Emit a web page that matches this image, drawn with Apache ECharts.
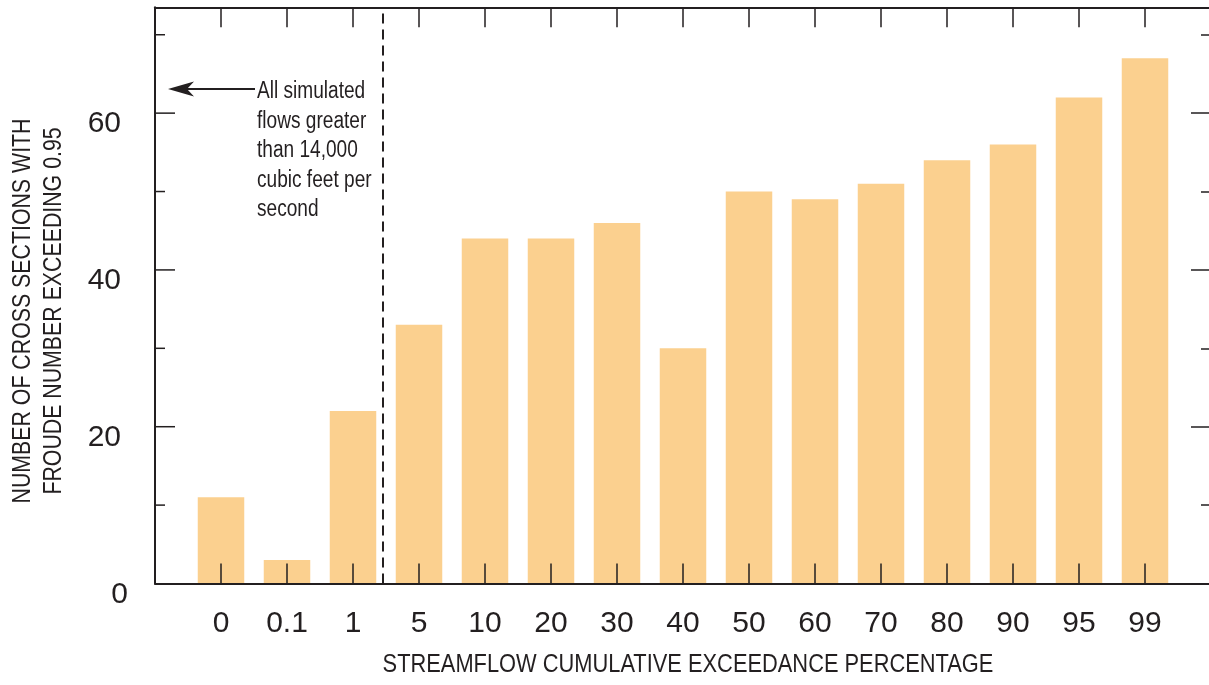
<!DOCTYPE html>
<html>
<head>
<meta charset="utf-8">
<script src="https://cdn.jsdelivr.net/npm/echarts@6/dist/echarts.min.js"></script>
<style>
  html, body { margin: 0; padding: 0; background: #fff; }
  #chart { width: 1209px; height: 685px; }
</style>
</head>
<body>
<div id="chart"></div>
<script>
// Streamflow exceedance classes (percent) and the count of cross sections per class
const categories = ['0', '0.1', '1', '5', '10', '20', '30', '40', '50', '60', '70', '80', '90', '95', '99'];
const crossSections = [11, 3, 22, 33, 44, 44, 46, 30, 50, 49, 51, 54, 56, 62, 67];
const yTickLabels = [0, 20, 40, 60];
const yMajorTicks = [20, 40, 60];
const yMinorTicks = [10, 30, 50, 70];

// Position of the 14,000 cubic-feet-per-second divide, between the "1" and "5" classes
const flowDivide = 2.45;

const FONT = '"Liberation Sans", Arial, sans-serif';
const NARROW = 0.83; // horizontal squeeze that gives the titles a condensed face
const INK = '#231f20';
const BAR = '#fbd08f';

const GRID = { left: 155, right: -2, top: 7.3, bottom: 101.5 };

const barData = crossSections.map((v, i) => [i, v]);

const chart = echarts.init(document.getElementById('chart'), null, { renderer: 'canvas' });

const yCommon = {
  type: 'value',
  min: 0,
  max: 73.5,
  interval: 20,
  splitLine: { show: false },
  minorSplitLine: { show: false },
  z: 5
};

const xCommon = {
  type: 'value',
  min: -1,
  max: 15,
  interval: 1,
  z: 5,
  splitLine: { show: false },
  axisLine: { show: true, onZero: false, lineStyle: { color: INK, width: 2 } },
  axisTick: { show: true, inside: true, length: 20, lineStyle: { color: INK, width: 1.5 } }
};

chart.setOption({
  animation: false,
  backgroundColor: '#fff',
  grid: Object.assign({ containLabel: false, outerBoundsMode: 'none' }, GRID),
  xAxis: [
    Object.assign({}, xCommon, {
      position: 'bottom',
      axisLabel: {
        show: true,
        margin: 25,
        fontFamily: FONT,
        fontSize: 30,
        color: INK,
        showMinLabel: true,
        showMaxLabel: true,
        formatter: v => (categories[v] !== undefined ? categories[v] : '')
      }
    }),
    Object.assign({}, xCommon, {
      position: 'top',
      axisLabel: { show: false }
    })
  ],
  yAxis: [
    Object.assign({}, yCommon, {
      position: 'left',
      axisLine: { show: true, onZero: false, lineStyle: { color: INK, width: 2 } },
      axisTick: { show: false },
      axisLabel: {
        show: true,
        margin: 27,
        verticalAlign: 'top',
        lineHeight: 22,
        fontFamily: FONT,
        fontSize: 30,
        color: INK,
        formatter: v => {
          if (!yTickLabels.includes(v)) return '';
          return v === 0 ? '{z|' + v + '}' : '{n|' + v + '}';
        },
        rich: {
          z: { fontFamily: FONT, fontSize: 30, color: INK, lineHeight: 22 },
          n: { fontFamily: FONT, fontSize: 30, color: INK, lineHeight: 22, padding: [0, 7, 0, 0] }
        }
      }
    }),
    Object.assign({}, yCommon, {
      position: 'right',
      axisLine: { show: false, onZero: false },
      axisTick: { show: true, inside: true, length: 20, lineStyle: { color: INK, width: 1.5 } },
      minorTick: { show: true, splitNumber: 2, length: 10, lineStyle: { color: INK, width: 1.5 } },
      axisLabel: { show: false }
    })
  ],
  series: [
    {
      type: 'bar',
      xAxisIndex: 0,
      yAxisIndex: 0,
      data: barData,
      barWidth: 46.5,
      itemStyle: { color: BAR },
      z: 2,
      silent: true,
      markLine: {
        silent: true,
        symbol: ['none', 'none'],
        label: { show: false },
        lineStyle: { color: INK, width: 2, type: [10, 6] },
        data: [{ xAxis: flowDivide }]
      }
    }
  ]
});

// Inward ticks along the left frame, placed on the value scale of the left axis
function leftTick(value, length) {
  const y = chart.convertToPixel({ yAxisIndex: 0 }, value);
  return {
    type: 'line',
    silent: true,
    z: 10,
    shape: { x1: GRID.left, y1: y, x2: GRID.left + length, y2: y },
    style: { stroke: INK, lineWidth: 1.5 }
  };
}

const tickMarks = yMajorTicks.map(v => leftTick(v, 20)).concat(yMinorTicks.map(v => leftTick(v, 10)));

chart.setOption({
  graphic: tickMarks.concat([
    // Axis titles
    {
      type: 'text',
      x: 688,
      y: 665,
      scaleX: 0.84,
      silent: true,
      style: {
        text: 'STREAMFLOW CUMULATIVE EXCEEDANCE PERCENTAGE',
        font: '26px ' + FONT,
        fill: INK,
        align: 'center',
        verticalAlign: 'middle'
      }
    },
    {
      type: 'text',
      x: 38,
      y: 311,
      rotation: Math.PI / 2,
      scaleX: 0.82,
      silent: true,
      style: {
        text: 'NUMBER OF CROSS SECTIONS WITH\nFROUDE NUMBER EXCEEDING 0.95',
        font: '26px ' + FONT,
        lineHeight: 31,
        fill: INK,
        align: 'center',
        verticalAlign: 'middle'
      }
    },
    // Note on the high-flow classes
    {
      type: 'line',
      silent: true,
      shape: { x1: 184, y1: 89, x2: 255, y2: 89 },
      style: { stroke: INK, lineWidth: 2 }
    },
    {
      type: 'polygon',
      silent: true,
      shape: { points: [[168, 89], [194, 81.5], [187, 89], [194, 96.5]] },
      style: { fill: INK }
    },
    {
      type: 'text',
      x: 257,
      y: 77,
      scaleX: NARROW,
      silent: true,
      style: {
        text: 'All simulated\nflows greater\nthan 14,000\ncubic feet per\nsecond',
        font: '23px ' + FONT,
        lineHeight: 29.5,
        fill: INK,
        align: 'left',
        verticalAlign: 'top'
      }
    }
  ])
});
</script>
</body>
</html>
